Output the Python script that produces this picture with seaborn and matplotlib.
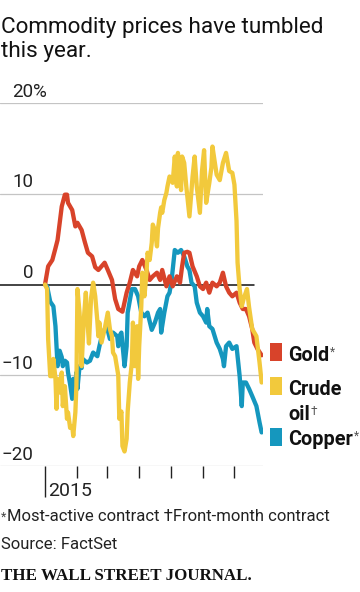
import numpy as np
import pandas as pd
import matplotlib
matplotlib.use("Agg")
import matplotlib.pyplot as plt
from matplotlib.patches import Rectangle
import seaborn as sns

# ---------------- data ----------------
title_lines = ["Commodity prices have tumbled", "this year."]
series_names = ["Gold", "Crude oil", "Copper"]
series_colors = ["#d8432a", "#f2c93c", "#1597be"]
y_ticks = [-20, -10, 0, 10, 20]
y_tick_labels = ["\u221220", "\u221210", "0", "10", "20"]
month_ticks = ["2015-01-01", "2015-02-01", "2015-03-01", "2015-04-01",
               "2015-05-01", "2015-06-01", "2015-07-01"]
year_label = "2015"
footnote_mark = "*"
footnote = "Most-active contract \u2020Front-month contract"
source = "Source: FactSet"
brand = "THE WALL STREET JOURNAL."

# days since 2015-01-01 and % change since start of year
gold_day = [0, 3, 7, 10, 12, 16, 19, 21, 22, 26, 29, 31, 35, 38, 41, 45, 48, 51, 54, 57,
            60, 64, 67, 70, 74, 78, 81, 84, 88, 90, 93, 97, 100, 103, 107, 110, 112, 116,
            119, 122, 126, 129, 131, 133, 136, 138, 141, 145, 148, 151, 154, 157, 160, 164,
            167, 170, 173, 176, 179, 183, 186, 189, 192, 195, 198, 200, 203, 207]
gold_pct = [0, 2.0, 2.7, 4.0, 4.9, 8.6, 9.9, 9.9, 9.0, 8.2, 6.4, 6.8, 6.0, 4.7, 3.5, 3.1, 1.9,
            1.6, 2.0, 2.4, 1.6, 0.5, -1.6, -2.7, -3.0, -0.9, 0.2, 1.6, 0.9, 2.0, 2.7, 1.6, 0.5,
            0.9, 1.3, 0.5, 1.6, -0.2, 0.9, -0.2, 0.9, 0.2, 2.0, 3.5, 3.6, 3.5, 2.0, 0.9, -0.2,
            -0.5, 0.2, -0.9, 0.2, -0.2, 0.2, 1.3, -0.2, -0.9, -1.3, -0.9, -2.0, -2.7, -2.7,
            -3.5, -4.9, -6.4, -7.1, -7.8]

crude_day = [0, 2, 3, 5, 7, 8, 10, 11, 12, 14, 16, 17, 19, 21, 22, 24, 26, 27, 29, 30, 31,
             33, 35, 37, 39, 40, 42, 44, 46, 48, 50, 51, 52, 54, 57, 60, 62, 64, 65, 67, 69,
             70, 71, 73, 74, 76, 78, 79, 81, 83, 84, 86, 88, 89, 90, 92, 93, 95, 97, 98, 100,
             102, 103, 105, 107, 108, 110, 111, 112, 114, 116, 117, 119, 122, 124, 126, 127,
             129, 130, 131, 133, 135, 138, 140, 141, 143, 145, 148, 150, 152, 154, 157, 159,
             160, 164, 167, 170, 173, 176, 179, 181, 183, 184, 186, 188, 190, 193, 195, 198,
             202, 205, 207]
crude_pct = [0, -0.5, -6.0, -10.1, -10.1, -8.2, -10.4, -13.7, -10.4, -11.9, -9.7, -13.4,
             -11.2, -14.8, -14.1, -15.8, -15.6, -16.7, -14.1, -11.2, -0.5, -3.1, -9.0, -4.0,
             -0.9, -3.0, -6.5, -1.5, 0.2, -1.3, -4.0, -5.7, -4.2, -6.4, -4.9, -3.1, -4.9, -5.7,
             -7.5, -7.9, -9.3, -10.0, -14.8, -14.0, -17.8, -18.4, -17.0, -14.0, -10.8, -8.6,
             -4.2, -9.0, -4.6, -10.4, -6.8, -2.4, 1.3, -1.3, 1.3, 3.5, 2.7, 4.6, 6.6, 6.0, 4.2,
             6.2, 7.9, 8.5, 7.9, 9.3, 10.1, 10.8, 11.9, 11.2, 14.1, 10.8, 14.5, 12.3, 10.4,
             14.1, 13.4, 10.8, 7.5, 10.4, 11.9, 14.1, 10.8, 7.9, 12.5, 14.8, 9.0, 11.2, 12.9,
             15.2, 12.1, 11.5, 13.4, 14.5, 12.5, 12.3, 11.0, 7.0, 2.4, -0.5, -2.4, -1.5, -0.5,
             -2.5, -4.9, -5.7, -8.6, -10.8]

copper_day = [0, 2, 5, 8, 10, 11, 12, 14, 16, 17, 19, 21, 22, 24, 26, 27, 29, 30, 31, 33, 35,
              36, 40, 43, 46, 50, 52, 55, 59, 62, 65, 69, 70, 71, 73, 76, 78, 79, 83, 86, 89,
              92, 95, 98, 102, 105, 108, 110, 111, 114, 117, 119, 121, 124, 127, 130, 133, 136,
              138, 140, 143, 145, 148, 151, 154, 155, 157, 160, 164, 167, 170, 171, 173, 176,
              179, 183, 186, 188, 189, 192, 195, 198, 202, 205, 207]
copper_pct = [0, -0.2, -1.9, -2.4, -4.6, -6.8, -9.0, -7.3, -8.0, -9.0, -8.4, -8.6, -9.7, -11.0,
              -12.6, -10.4, -11.0, -9.7, -11.5, -9.0, -9.2, -8.2, -8.6, -8.4, -7.5, -7.9, -6.8,
              -5.3, -4.6, -6.0, -5.3, -5.7, -6.8, -5.7, -5.3, -9.0, -6.8, -3.1, -0.5, -0.5,
              -1.3, -3.1, -3.5, -3.1, -5.0, -4.2, -3.1, -2.7, -5.3, -3.1, -1.3, -0.9, 0.5, 3.8,
              3.5, 3.8, 3.1, 2.0, 1.6, 0.2, -0.2, -2.0, -3.1, -3.5, -4.2, -2.7, -4.6, -4.9,
              -6.4, -7.1, -8.2, -9.0, -6.8, -6.4, -7.1, -6.8, -10.1, -13.4, -10.8, -10.8, -11.5,
              -12.3, -13.4, -15.2, -16.3]

# ---------------- build long table ----------------
start = pd.Timestamp("2015-01-01")
frames = []
for name, days, vals in zip(series_names,
                            [gold_day, crude_day, copper_day],
                            [gold_pct, crude_pct, copper_pct]):
    frames.append(pd.DataFrame({
        "date": start + pd.to_timedelta(days, unit="D"),
        "pct": vals,
        "series": name,
    }))
df = pd.concat(frames, ignore_index=True)

# ---------------- style ----------------
sns.set_style("white")
SANS = ["Roboto", "DejaVu Sans"]
plt.rcParams["font.family"] = SANS
plt.rcParams["lines.solid_joinstyle"] = "round"

W, H = 360, 592
fig = plt.figure(figsize=(W / 100, H / 100), dpi=100)
fig.patch.set_facecolor("white")


def fx(px):
    return px / W


def fy(py):
    return 1 - py / H


ax_left, ax_right, ax_top, ax_bot = 0, 263, 103, 466
ax = fig.add_axes([fx(ax_left), fy(ax_bot), (ax_right - ax_left) / W, (ax_bot - ax_top) / H])
ax.set_facecolor("white")

# grid lines
for v in y_ticks:
    if v == 0:
        continue
    ax.axhline(v, color="#c4c4c4", lw=0.9, zorder=0)
ax.axhline(0, xmin=0, xmax=254 / 263, color="#111111", lw=1.1, zorder=1)

palette = dict(zip(series_names, series_colors))
sns.lineplot(data=df, x="date", y="pct", hue="series",
             hue_order=["Copper", "Gold", "Crude oil"], palette=palette,
             estimator=None, sort=True, linewidth=3.1, legend=False, ax=ax, zorder=3)

ax.set_xlim(start + pd.Timedelta(days=-43), start + pd.Timedelta(days=208.3))
ax.set_ylim(-20, 20)
for s in ax.spines.values():
    s.set_visible(False)
ax.set_xlabel("")
ax.set_ylabel("")
ax.set_yticks([])

# x ticks (months)
ax.set_xticks(pd.to_datetime(month_ticks))
ax.set_xticklabels([])
ax.tick_params(axis="x", bottom=True, length=8.6, width=1.0, color="#222222", direction="out", pad=0)
ax.xaxis.get_major_ticks()[0].tick1line.set_markersize(22.5)
ax.annotate(year_label, xy=(pd.Timestamp(month_ticks[0]), 0), xycoords=("data", "axes fraction"),
            xytext=(2.2, -21.6), textcoords="offset points", ha="left", va="baseline",
            fontsize=14, color="#222222")

# y labels
for v, lab in zip(y_ticks, y_tick_labels):
    ax.annotate(lab, xy=(33 / 263, v), xycoords=("axes fraction", "data"),
                xytext=(0, 4.6), textcoords="offset points", ha="right", va="baseline",
                fontsize=13.5, color="#222222")
    if v == max(y_ticks):
        ax.annotate("%", xy=(33 / 263, v), xycoords=("axes fraction", "data"),
                    xytext=(0, 4.6), textcoords="offset points", ha="left", va="baseline",
                    fontsize=13.5, color="#222222")

# title
fig.text(fx(1), fy(33), title_lines[0], fontsize=16.2, va="baseline", color="#111111")
fig.text(fx(1), fy(57), title_lines[1], fontsize=16.2, va="baseline", color="#111111")

# legend (labels at line ends)
legend_rows = [
    ("Gold", ["Gold"], "*", 343, 361),
    ("Crude oil", ["Crude", "oil"], "\u2020", 377, 395),
    ("Copper", ["Copper"], "*", 428, 445),
]
for name, words, mark, sq_top, base in legend_rows:
    fig.add_artist(Rectangle((fx(270), fy(sq_top + 18)), 12 / W, 18 / H,
                             transform=fig.transFigure, color=palette[name], lw=0))
    last = None
    for i, w in enumerate(words):
        last = fig.text(fx(288), fy(base + i * 25), w, fontsize=14.3, fontweight="bold",
                        va="baseline", color="#111111")
    ax.annotate(mark, xy=(1, 1), xycoords=last, xytext=(0.6, 0), textcoords="offset points",
                ha="left", va="top", fontsize=8.5, color="#555555", annotation_clip=False)

# notes
mark_txt = fig.text(fx(1), fy(521), footnote_mark, fontsize=9, va="baseline", color="#444444")
ax.annotate(footnote, xy=(1, 0), xycoords=mark_txt, xytext=(0.3, 0), textcoords="offset points",
            ha="left", va="bottom", fontsize=12, color="#222222", annotation_clip=False)
fig.text(fx(1), fy(549), source, fontsize=12, va="baseline", color="#222222")
fig.text(fx(1), fy(580), brand, fontsize=12.2, va="baseline", color="#111111",
         family=["Liberation Serif", "DejaVu Serif"], fontweight="bold")

fig.savefig("out.png", dpi=100, facecolor="white")
